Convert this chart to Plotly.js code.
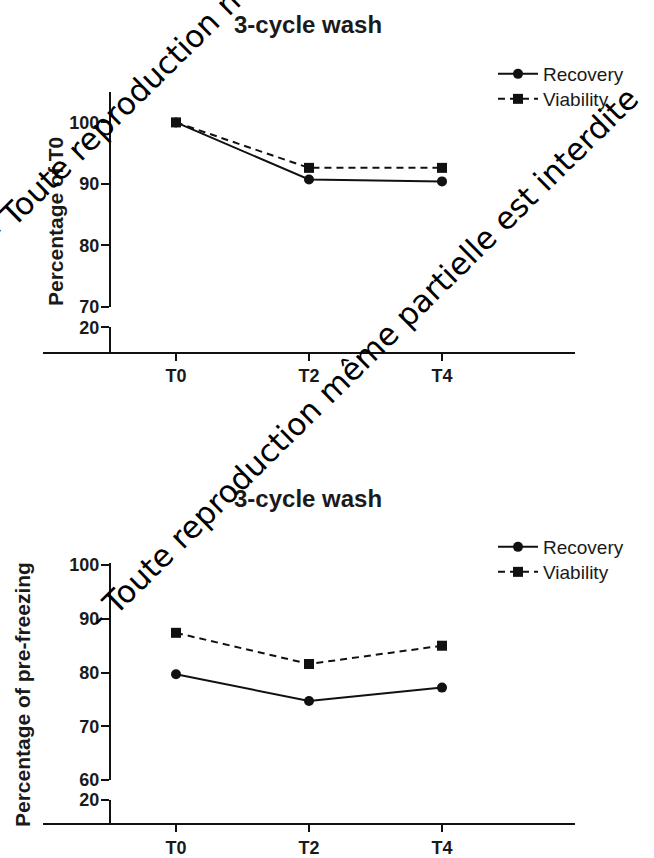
<!DOCTYPE html>
<html>
<head>
<meta charset="utf-8">
<script src="https://cdn.plot.ly/plotly-3.0.1.min.js"></script>
<style>html,body{margin:0;padding:0;background:#fff;}#chart{width:654px;height:858px;}</style>
</head>
<body>
<div id="chart"></div>
<script>
// ---- data ----
var categories = ["T0", "T2", "T4"];
var chartTitles = ["3-cycle wash", "3-cycle wash"];
var yTitles = ["Percentage of T0", "Percentage of pre-freezing"];
var seriesNames = ["Recovery", "Viability"];
// top chart (percentage of T0)
var topRecovery = [100, 90.7, 90.4];
var topViability = [100, 92.6, 92.6];
// bottom chart (percentage of pre-freezing)
var bottomRecovery = [79.7, 74.7, 77.2];
var bottomViability = [87.4, 81.6, 85.0];
// tick values
var topMainTicks = [70, 80, 90, 100];
var bottomMainTicks = [60, 70, 80, 90, 100];
var breakTicks = [20];
var watermark = "- Toute reproduction même partielle est interdite";

var W = 654, H = 858;
function px(x){return x / W;}
function py(y){return 1 - y / H;}

var FONT = "Liberation Sans, Arial, sans-serif";
var TICKFONT = {family: FONT, size: 18, color: "#1a1a1a", weight: "bold"};

function recTrace(x, y, xa, ya, legend){
  return {x: x, y: y, xaxis: xa, yaxis: ya, name: seriesNames[0], type: "scatter", mode: "lines+markers",
    line: {color: "#111", width: 2}, marker: {symbol: "circle", size: 10, color: "#111"}, legend: legend, cliponaxis: false};
}
function viaTrace(x, y, xa, ya, legend){
  return {x: x, y: y, xaxis: xa, yaxis: ya, name: seriesNames[1], type: "scatter", mode: "lines+markers",
    line: {color: "#111", width: 2, dash: "7px,5px"}, marker: {symbol: "square", size: 10, color: "#111"}, legend: legend, cliponaxis: false};
}
// empty carriers so the lower (broken) axis segments get drawn
function emptyTrace(xa, ya){
  return {x: [], y: [], xaxis: xa, yaxis: ya, type: "scatter", mode: "markers", showlegend: false, hoverinfo: "skip"};
}

var data = [
  recTrace(categories, topRecovery, "x", "y", "legend"),
  viaTrace(categories, topViability, "x", "y", "legend2"),
  recTrace(categories, bottomRecovery, "x2", "y3", "legend3"),
  viaTrace(categories, bottomViability, "x2", "y3", "legend4"),
  emptyTrace("x", "y2"),
  emptyTrace("x2", "y4")
];

function xAxis(anchor){
  return {type: "category", categoryarray: categories, range: [-1, 3], domain: [px(43), px(575)], anchor: anchor,
    showline: true, linecolor: "#111", linewidth: 2, ticks: "outside", ticklen: 7, tickwidth: 2, tickcolor: "#111",
    showgrid: false, zeroline: false, tickfont: TICKFONT, fixedrange: true};
}
function yAxis(domain, range, ticks){
  return {domain: domain, range: range, anchor: "free", position: px(110), tickvals: ticks, ticktext: ticks.map(String),
    showline: true, linecolor: "#111", linewidth: 2, ticks: "outside", ticklen: 8, tickwidth: 2, tickcolor: "#111",
    ticklabelstandoff: -2,
    showgrid: false, zeroline: false, tickfont: TICKFONT, fixedrange: true};
}

function legendAt(yTop){
  return {x: px(493), y: py(yTop), xanchor: "left", yanchor: "top", bgcolor: "rgba(0,0,0,0)", borderwidth: 0,
    font: {family: FONT, size: 19, color: "#1a1a1a"}, itemwidth: 40};
}

var titleFont = {family: FONT, size: 24, color: "#1a1a1a", weight: "bold"};
var yTitleFont = {family: FONT, size: 21, color: "#1a1a1a", weight: "bold"};
var wmFont = {family: "DejaVu Sans", size: 31, color: "#000"};

var layout = {
  width: W, height: H, margin: {l: 0, r: 0, t: 0, b: 0},
  paper_bgcolor: "#fff", plot_bgcolor: "rgba(0,0,0,0)", showlegend: true,
  xaxis: xAxis("y2"),
  xaxis2: xAxis("y4"),
  yaxis: yAxis([py(306.7), py(91.7)], [70, 105], topMainTicks),
  yaxis2: yAxis([py(351.7), py(327.3)], [16, 20], breakTicks),
  yaxis3: yAxis([py(780), py(563)], [60, 100.4], bottomMainTicks),
  yaxis4: yAxis([py(823.3), py(800)], [15.7, 20], breakTicks),
  legend: legendAt(55),
  legend2: legendAt(80),
  legend3: legendAt(528),
  legend4: legendAt(553),
  annotations: [
    {text: chartTitles[0], xref: "paper", yref: "paper", x: px(308), y: py(25), showarrow: false,
      font: titleFont, xanchor: "center", yanchor: "middle"},
    {text: chartTitles[1], xref: "paper", yref: "paper", x: px(308), y: py(498), showarrow: false,
      font: titleFont, xanchor: "center", yanchor: "middle"},
    {text: yTitles[0], xref: "paper", yref: "paper", x: px(55), y: py(222), showarrow: false, textangle: -90,
      font: yTitleFont, xanchor: "center", yanchor: "middle"},
    {text: yTitles[1], xref: "paper", yref: "paper", x: px(22), y: py(695), showarrow: false, textangle: -90,
      font: yTitleFont, xanchor: "center", yanchor: "middle"},
    {text: watermark, xref: "paper", yref: "paper", x: px(261), y: py(-30), showarrow: false, textangle: -44.5,
      font: wmFont, xanchor: "center", yanchor: "middle"},
    {text: watermark, xref: "paper", yref: "paper", x: px(363), y: py(358), showarrow: false, textangle: -44.5,
      font: wmFont, xanchor: "center", yanchor: "middle"}
  ]
};

Plotly.newPlot("chart", data, layout, {displayModeBar: false, staticPlot: true});
</script>
</body>
</html>
